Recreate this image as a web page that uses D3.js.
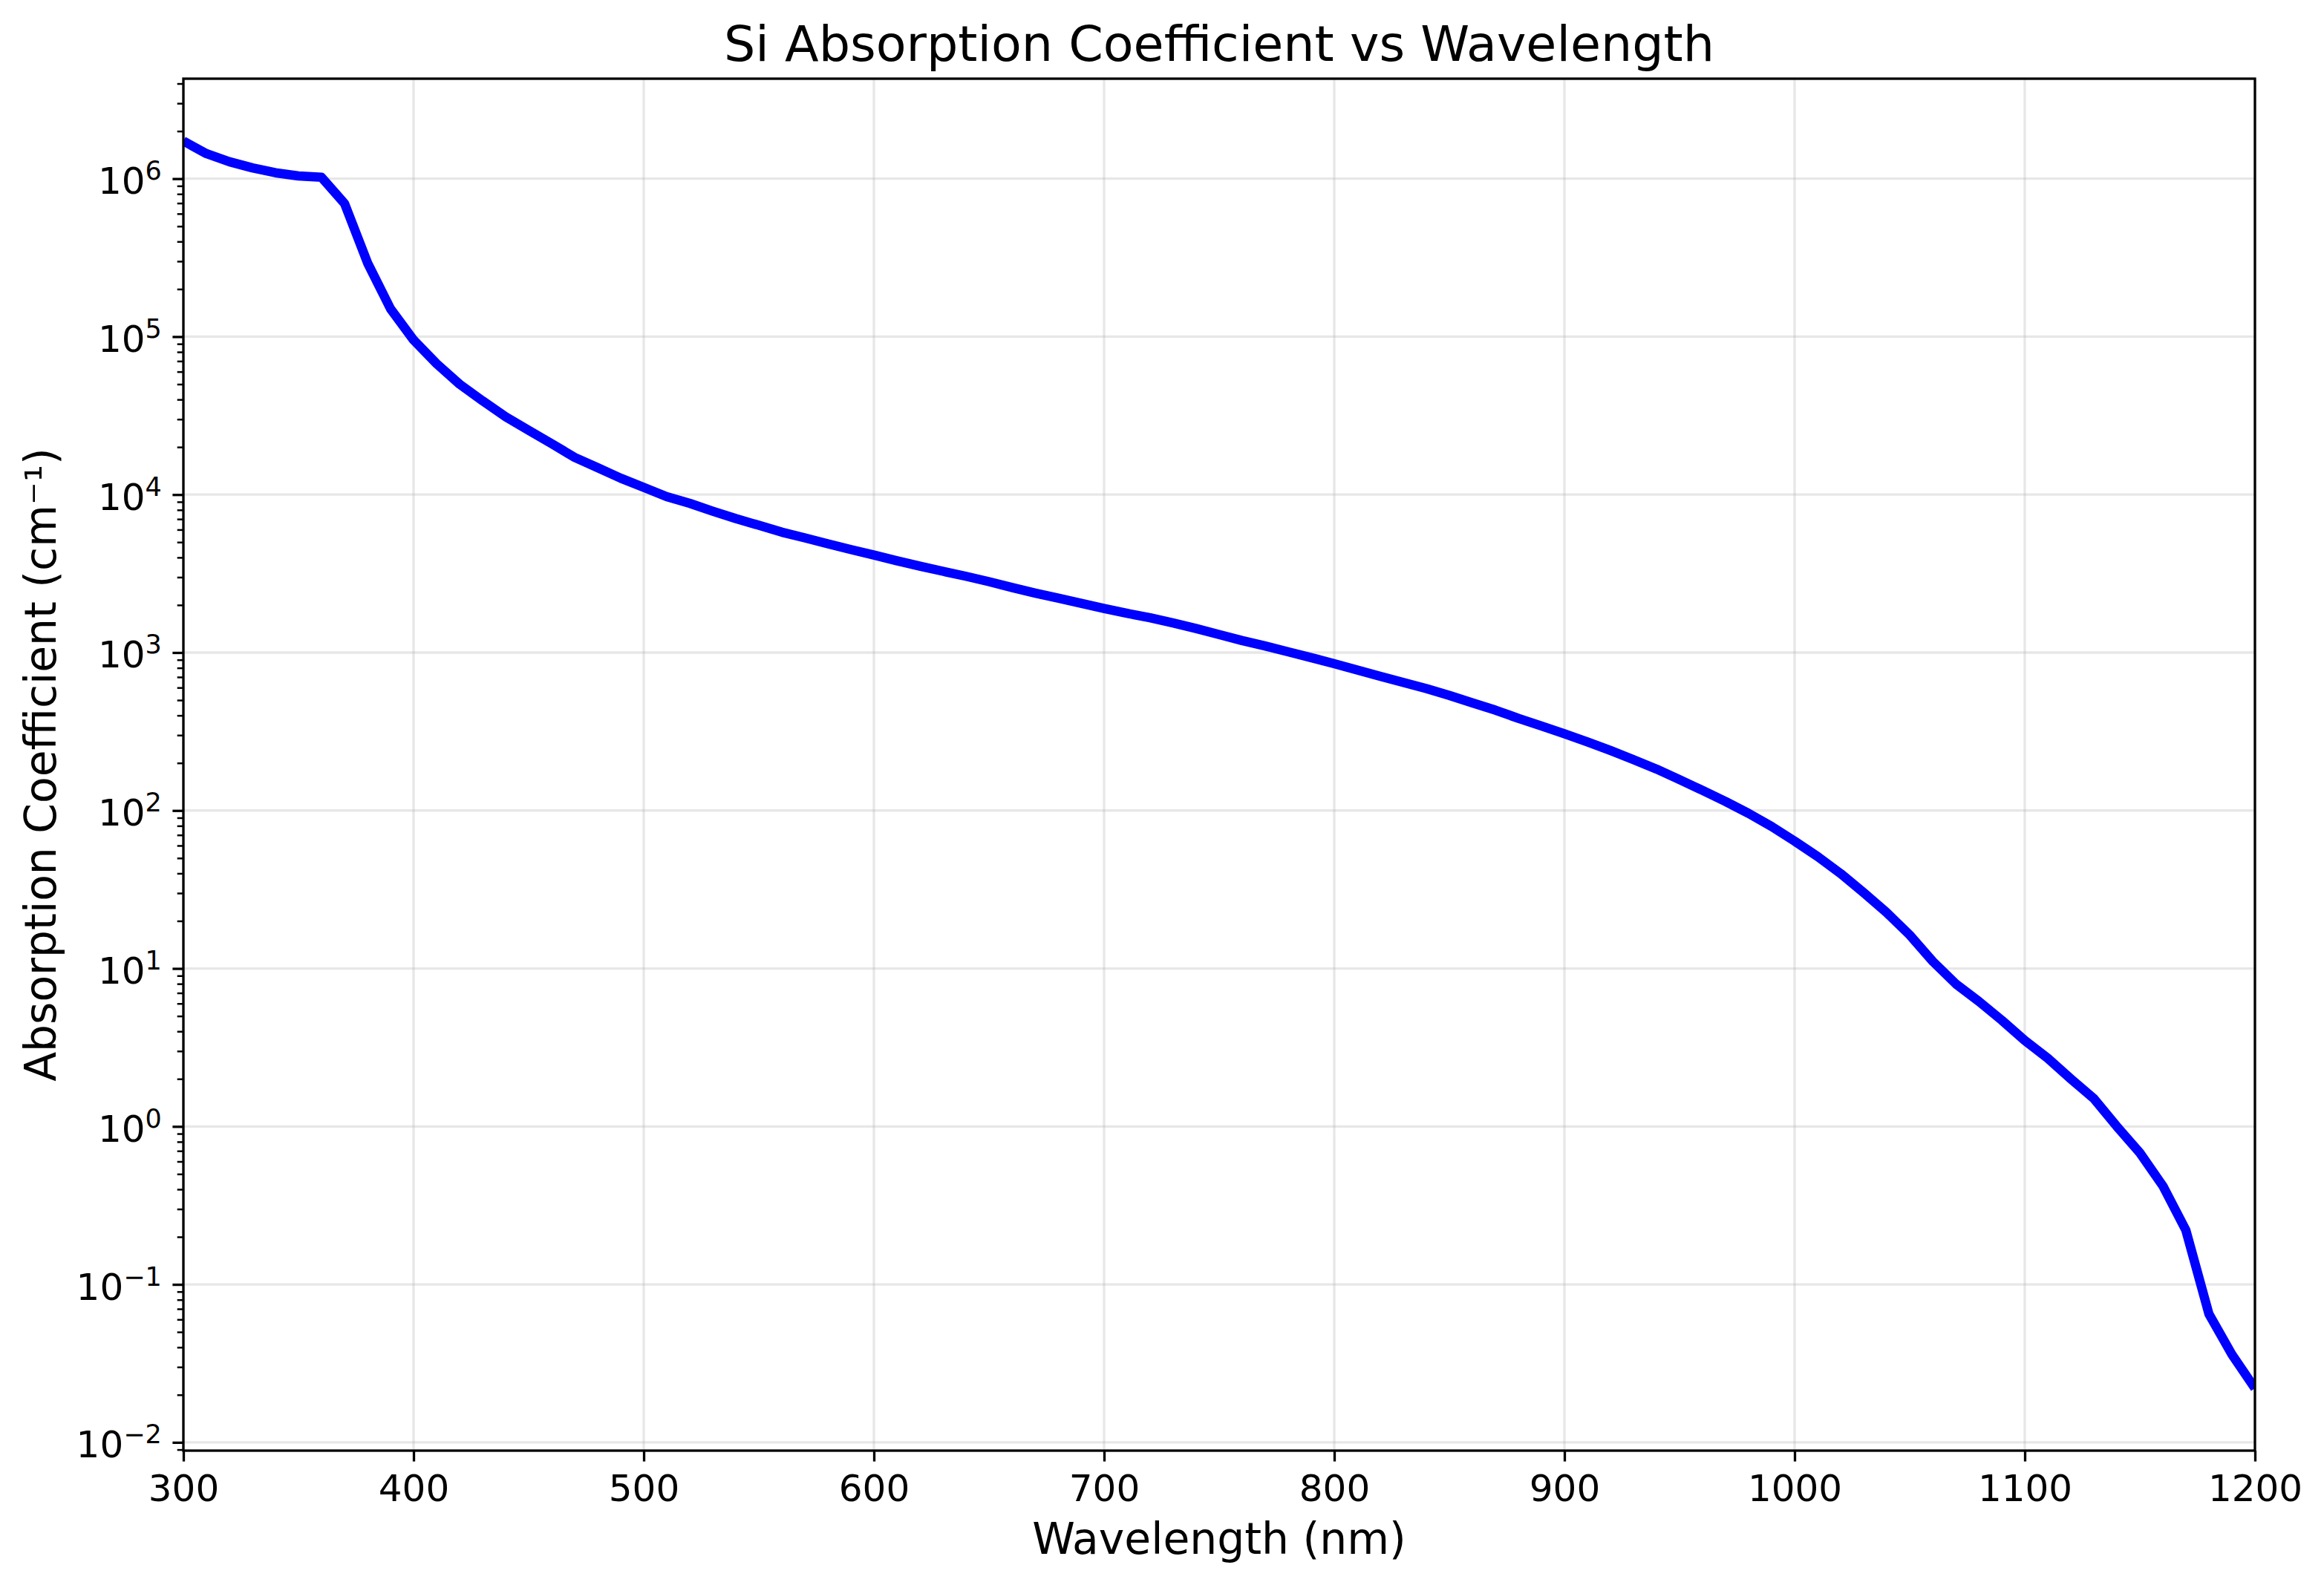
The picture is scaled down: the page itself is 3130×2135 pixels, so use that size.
<!DOCTYPE html>
<html>
<head>
<meta charset="utf-8">
<script src="https://cdn.jsdelivr.net/npm/d3@7"></script>
<style>
  body { margin: 0; background: #ffffff; }
  text { font-family: "DejaVu Sans", sans-serif; fill: #000000; }
</style>
</head>
<body>
<div id="chart"></div>
<script>
// silicon absorption coefficient
var wavelengths = [300, 310, 320, 330, 340, 350, 360, 370, 380, 390,
                   400, 410, 420, 430, 440, 450, 460, 470, 480, 490,
                   500, 510, 520, 530, 540, 550, 560, 570, 580, 590,
                   600, 610, 620, 630, 640, 650, 660, 670, 680, 690,
                   700, 710, 720, 730, 740, 750, 760, 770, 780, 790,
                   800, 810, 820, 830, 840, 850, 860, 870, 880, 890,
                   900, 910, 920, 930, 940, 950, 960, 970, 980, 990,
                   1000, 1010, 1020, 1030, 1040, 1050, 1060, 1070, 1080, 1090,
                   1100, 1110, 1120, 1130, 1140, 1150, 1160, 1170, 1180, 1190,
                   1200];
var absorption = [1.73e6, 1.44e6, 1.28e6, 1.17e6, 1.09e6, 1.04e6, 1.02e6, 6.97e5, 2.93e5, 1.50e5,
                  9.52e4, 6.74e4, 5.00e4, 3.92e4, 3.11e4, 2.55e4, 2.10e4, 1.72e4, 1.48e4, 1.27e4,
                  1.11e4, 9.70e3, 8.80e3, 7.85e3, 7.05e3, 6.39e3, 5.78e3, 5.32e3, 4.88e3, 4.49e3,
                  4.14e3, 3.81e3, 3.52e3, 3.27e3, 3.04e3, 2.81e3, 2.58e3, 2.38e3, 2.21e3, 2.05e3,
                  1.90e3, 1.77e3, 1.66e3, 1.54e3, 1.42e3, 1.30e3, 1.19e3, 1.10e3, 1.01e3, 928,
                  850, 775, 707, 647, 591, 535, 480, 432, 383, 343,
                  306, 272, 240, 210, 183, 157, 134, 114, 95.9, 79.2,
                  64.0, 51.1, 39.9, 30.2, 22.6, 16.3, 11.1, 8.0, 6.2, 4.7,
                  3.5, 2.7, 2.0, 1.5, 1.0, 0.68, 0.42, 0.22, 0.065, 0.036,
                  0.022];
var xTicks = [300, 400, 500, 600, 700, 800, 900, 1000, 1100, 1200];
var yExponents = [-2, -1, 0, 1, 2, 3, 4, 5, 6];

var width = 3130, height = 2135;
var plotLeft = 247, plotRight = 3037, plotTop = 106, plotBottom = 1954;

var svg = d3.select("#chart").append("svg")
    .attr("width", width)
    .attr("height", height);

//x scale, fixed limits like xlim(300, 1200)
var x = d3.scaleLinear()
    .domain([300, 1200])
    .range([plotLeft, plotRight]);

//y scale with 5% margin in log space (matplotlib autoscale)
var lo = Math.log10(d3.min(absorption)), hi = Math.log10(d3.max(absorption));
var pad = (hi - lo) * 0.05;
var y = d3.scaleLog()
    .domain([Math.pow(10, lo - pad), Math.pow(10, hi + pad)])
    .range([plotBottom, plotTop]);

var yMajor = yExponents.map(function(e) { return Math.pow(10, e); });
var yMinor = [];
yExponents.concat([7]).forEach(function(e) {
    for (var m = 2; m <= 9; m++) {
        var v = m * Math.pow(10, e - 1);
        if (v >= y.domain()[0] && v <= y.domain()[1]) yMinor.push(v);
    }
});

//grid lines
var grid = svg.append("g");
grid.selectAll(".gx").data(xTicks).enter().append("line")
    .attr("x1", function(d) { return x(d); })
    .attr("x2", function(d) { return x(d); })
    .attr("y1", plotTop).attr("y2", plotBottom)
    .style("stroke", "#b0b0b0").style("stroke-opacity", 0.3).style("stroke-width", 3.3);
grid.selectAll(".gy").data(yMajor).enter().append("line")
    .attr("x1", plotLeft).attr("x2", plotRight)
    .attr("y1", function(d) { return y(d); })
    .attr("y2", function(d) { return y(d); })
    .style("stroke", "#b0b0b0").style("stroke-opacity", 0.3).style("stroke-width", 3.3);

//the curve
svg.append("clipPath").attr("id", "plotclip")
    .append("rect")
    .attr("x", plotLeft).attr("y", plotTop)
    .attr("width", plotRight - plotLeft).attr("height", plotBottom - plotTop);

var line = d3.line()
    .x(function(d, i) { return x(wavelengths[i]); })
    .y(function(d) { return y(d); });

svg.append("path")
    .datum(absorption)
    .attr("clip-path", "url(#plotclip)")
    .attr("d", line)
    .style("fill", "none")
    .style("stroke", "#0000ff")
    .style("stroke-width", 12.5)
    .style("stroke-linejoin", "round");

//x axis
var xAxis = svg.append("g")
    .attr("transform", "translate(0," + plotBottom + ")")
    .call(d3.axisBottom(x).tickValues(xTicks).tickSize(14.6).tickSizeOuter(0).tickPadding(17.5)
        .tickFormat(d3.format("d")));
xAxis.select(".domain").remove();
xAxis.selectAll("line").style("stroke-width", 3.3);
xAxis.selectAll("text").style("font-size", "50px").attr("fill", "#000");

//y axis, major ticks with 10^n labels
var yAxis = svg.append("g")
    .attr("transform", "translate(" + plotLeft + ",0)")
    .call(d3.axisLeft(y).tickValues(yMajor).tickSize(14.6).tickSizeOuter(0).tickPadding(14.6)
        .tickFormat(function() { return ""; }));
yAxis.select(".domain").remove();
yAxis.selectAll("line").style("stroke-width", 3.3);
yAxis.selectAll("text")
    .style("font-size", "50px")
    .attr("dy", 20)
    .each(function(d) {
        var e = Math.round(Math.log10(d));
        var t = d3.select(this);
        t.append("tspan").text("10");
        t.append("tspan")
            .attr("dy", -19)
            .style("font-size", "35px")
            .text(e < 0 ? "\u2212" + (-e) : String(e));
    });

//y axis minor ticks
var yMinorAxis = svg.append("g")
    .attr("transform", "translate(" + plotLeft + ",0)")
    .call(d3.axisLeft(y).tickValues(yMinor).tickSize(8.3).tickSizeOuter(0).tickFormat(""));
yMinorAxis.select(".domain").remove();
yMinorAxis.selectAll("line").style("stroke-width", 2.5);

//frame
svg.append("rect")
    .attr("x", plotLeft).attr("y", plotTop)
    .attr("width", plotRight - plotLeft).attr("height", plotBottom - plotTop)
    .style("fill", "none").style("stroke", "#000").style("stroke-width", 3.3);

//title
svg.append("text")
    .attr("x", (plotLeft + plotRight) / 2)
    .attr("y", 82)
    .attr("text-anchor", "middle")
    .style("font-size", "66.7px")
    .text("Si Absorption Coefficient vs Wavelength");

//x-axis label
svg.append("text")
    .attr("x", (plotLeft + plotRight) / 2)
    .attr("y", 2093)
    .attr("text-anchor", "middle")
    .style("font-size", "58.3px")
    .text("Wavelength (nm)");

//y-axis label
svg.append("text")
    .attr("transform", "translate(75," + (plotTop + plotBottom) / 2 + ") rotate(-90)")
    .attr("text-anchor", "middle")
    .style("font-size", "58.3px")
    .text("Absorption Coefficient (cm\u207B\u00B9)");
</script>
</body>
</html>
